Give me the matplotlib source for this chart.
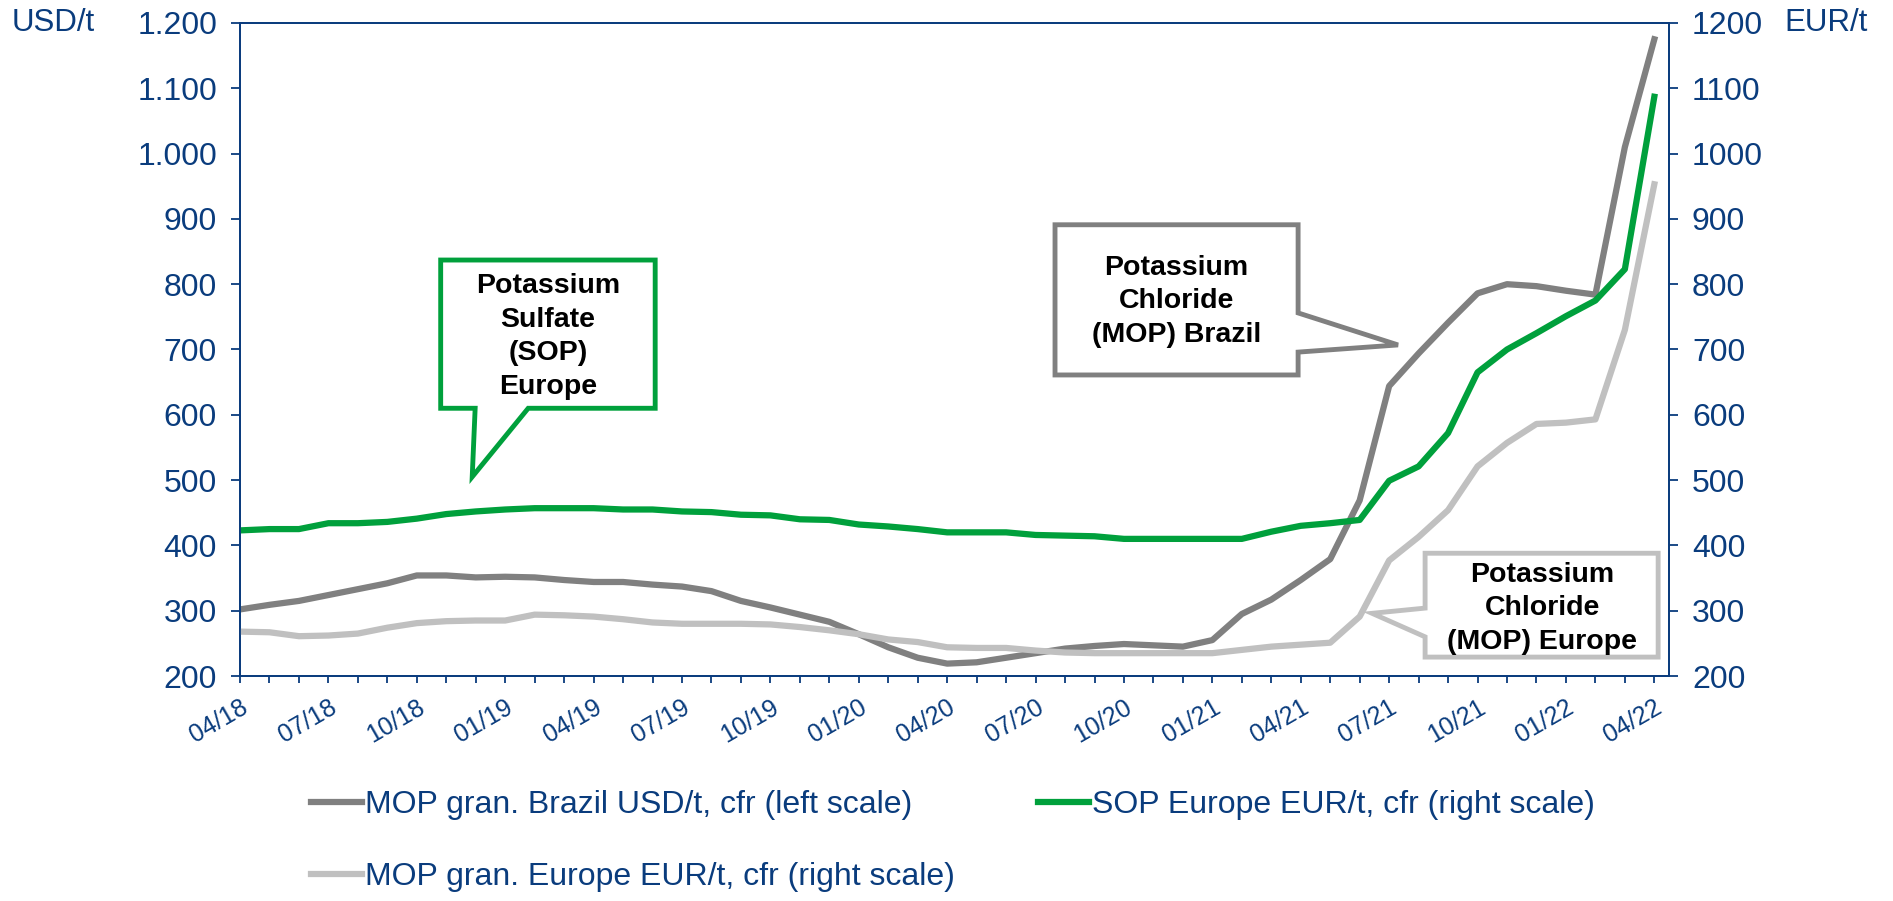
import matplotlib
matplotlib.use("Agg")
import matplotlib.pyplot as plt
from matplotlib.patches import Polygon
from matplotlib.ticker import FuncFormatter
import numpy as np

plt.rcParams['font.family'] = ['Liberation Sans', 'DejaVu Sans']

# monthly values, 04/18 .. 04/22
months = ['04/18', '05/18', '06/18', '07/18', '08/18', '09/18', '10/18', '11/18', '12/18',
          '01/19', '02/19', '03/19', '04/19', '05/19', '06/19', '07/19', '08/19', '09/19',
          '10/19', '11/19', '12/19', '01/20', '02/20', '03/20', '04/20', '05/20', '06/20',
          '07/20', '08/20', '09/20', '10/20', '11/20', '12/20', '01/21', '02/21', '03/21',
          '04/21', '05/21', '06/21', '07/21', '08/21', '09/21', '10/21', '11/21', '12/21',
          '01/22', '02/22', '03/22', '04/22']
mop_brazil = [302, 309, 315, 324, 333, 342, 354, 354, 351, 352, 351, 347, 344, 344, 340,
              337, 330, 315, 305, 294, 283, 264, 244, 228, 219, 221, 228, 235, 242, 246,
              249, 247, 245, 255, 295, 317, 347, 379, 469, 644, 694, 741, 786, 800, 797,
              790, 784, 1010, 1175]
sop_europe = [423, 425, 425, 434, 434, 436, 441, 448, 452, 455, 457, 457, 457, 455, 455,
              452, 451, 447, 446, 440, 439, 432, 429, 425, 420, 420, 420, 416, 415, 414,
              410, 410, 410, 410, 410, 421, 430, 434, 439, 499, 521, 572, 665, 700, 725,
              751, 775, 823, 1087]
mop_europe = [268, 267, 261, 262, 265, 274, 281, 284, 285, 285, 294, 293, 291, 287, 282,
              280, 280, 280, 279, 275, 270, 264, 256, 252, 244, 243, 243, 239, 236, 235,
              235, 235, 235, 235, 240, 245, 248, 251, 291, 377, 413, 454, 521, 557, 586,
              588, 593, 730, 953]

labels = ['MOP gran. Brazil USD/t, cfr (left scale)',
          'SOP Europe EUR/t, cfr (right scale)',
          'MOP gran. Europe EUR/t, cfr (right scale)']

navy = '#0A3C7D'
dark_gray = '#808080'
light_gray = '#C0C0C0'
green = '#00A03C'

fig = plt.figure(figsize=(18.93, 9.01), dpi=100)
ax = fig.add_axes([0.1268, 0.2497, 0.7549, 0.7248])
ax2 = ax.twinx()

x = np.arange(len(months))
l1, = ax.plot(x, mop_brazil, color=dark_gray, lw=4.5)
l3, = ax2.plot(x, mop_europe, color=light_gray, lw=4.5)
l2, = ax2.plot(x, sop_europe, color=green, lw=4.5)

ax.set_xlim(0, len(months) - 0.5)
for a in (ax, ax2):
    a.set_ylim(200, 1200)
    a.set_yticks(np.arange(200, 1201, 100))
    for s in a.spines.values():
        s.set_color(navy)
        s.set_linewidth(1.3)
    a.tick_params(axis='y', colors=navy, labelsize=23, length=6.5, width=1.3, pad=10)

ax.yaxis.set_major_formatter(FuncFormatter(lambda v, p: f'{v:,.0f}'.replace(',', '.')))
ax2.yaxis.set_major_formatter(FuncFormatter(lambda v, p: f'{v:.0f}'))

ax.set_xticks(x)
ax.set_xticklabels([m if i % 3 == 0 else '' for i, m in enumerate(months)],
                   rotation=30, ha='right', va='top', rotation_mode='anchor')
ax.tick_params(axis='x', colors=navy, labelsize=18, length=5, width=1.3, pad=9)

fig.text(0.006, 0.9745, 'USD/t', color=navy, fontsize=22.5, va='center')
fig.text(0.9424, 0.9745, 'EUR/t', color=navy, fontsize=22.5, va='center')

# callouts: outline in data coordinates, text centred in the box
callouts = [
    (green, 'Potassium\nSulfate\n(SOP)\nEurope', (10.45, 720),
     [(6.81, 837), (14.09, 837), (14.09, 610), (9.78, 610), (7.88, 505), (7.98, 610), (6.81, 610)]),
    (dark_gray, 'Potassium\nChloride\n(MOP) Brazil', (31.78, 774),
     [(27.66, 891), (35.91, 891), (35.91, 756), (39.3, 707), (35.91, 696), (35.91, 661), (27.66, 661)]),
    (light_gray, 'Potassium\nChloride\n(MOP) Europe', (44.2, 304),
     [(40.22, 388), (48.13, 388), (48.13, 229), (40.22, 229), (40.22, 260), (38.42, 296), (40.22, 304)]),
]
for col, txt, (cx, cy), pts in callouts:
    ax2.add_patch(Polygon(pts, closed=True, facecolor='white', edgecolor=col, lw=3.5, zorder=5))
    ax2.text(cx, cy, txt, ha='center', va='center', fontsize=20.5, fontweight='bold',
             color='black', zorder=6, linespacing=1.38)

leg_kw = dict(loc='upper left', frameon=False, fontsize=23, labelcolor=navy,
              handlelength=1.6, handletextpad=0.1, labelspacing=1.3,
              borderpad=0, borderaxespad=0)
fig.legend(handles=[l1, l3], labels=[labels[0], labels[2]],
           bbox_to_anchor=(0.1643, 0.123), **leg_kw)
fig.legend(handles=[l2], labels=[labels[1]], bbox_to_anchor=(0.5484, 0.123), **leg_kw)

fig.savefig('out.png', dpi=100)
